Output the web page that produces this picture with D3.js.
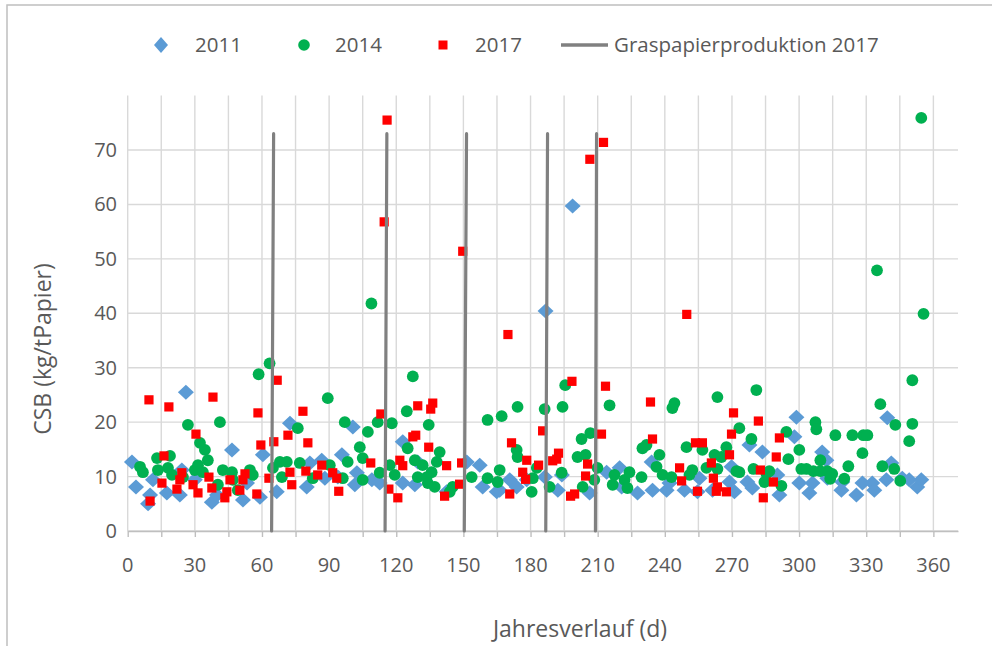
<!DOCTYPE html>
<html>
<head>
<meta charset="utf-8">
<script src="https://cdn.jsdelivr.net/npm/d3@7"></script>
<style>
  body { margin: 0; background: #fff; }
  svg { display: block; }
  text { font-family: "Open Sans", sans-serif; fill: #595959; }
</style>
</head>
<body>
<svg id="chart" width="992" height="646"></svg>
<script>
// CSB load per tonne of paper over the year: [day of year, kg/t]
const series2011 = [
  [1.9,12.7],[3.7,8.1],[9.1,5.0],[10.0,6.6],[11.3,9.4],[17.5,7.0],[23.3,6.6],[24.2,11.2],[26.0,25.5],[30.0,9.4],
  [37.6,5.3],[39.9,6.6],[46.6,14.9],[51.5,5.7],[53.3,8.8],[59.1,6.2],[60.4,14.0],[66.6,7.2],[72.5,19.8],[80.0,8.1],
  [81.4,12.5],[86.7,13.0],[88.1,9.7],[93.9,9.9],[95.7,14.0],[100.6,19.1],[101.5,8.5],[102.4,10.7],[109.1,9.4],[112.6,8.8],
  [122.9,16.4],[122.9,8.8],[128.3,8.5],[129.6,12.7],[142.5,7.2],[151.5,12.7],[157.3,12.1],[158.6,8.1],[164.9,7.2],[166.2,7.5],
  [170.7,9.4],[173.8,8.1],[178.3,9.4],[186.4,9.9],[186.7,40.4],[192.2,7.5],[194.0,10.3],[198.8,59.7],[206.4,7.0],[214.0,10.8],
  [219.8,11.6],[220.7,8.1],[227.8,7.0],[234.1,12.7],[234.5,7.5],[240.8,7.5],[242.1,8.8],[248.8,7.5],[254.6,7.2],[255.5,9.7],
  [261.3,7.5],[268.9,9.0],[269.8,11.8],[271.1,7.2],[276.9,9.0],[277.8,15.8],[279.1,7.9],[283.6,14.5],[290.3,10.3],[291.2,6.6],
  [297.9,17.3],[298.8,20.9],[300.1,8.8],[304.6,7.0],[306.0,8.8],[310.3,14.5],[312.2,13.0],[312.6,9.7],[318.9,7.5],[319.3,9.0],
  [325.6,6.6],[328.3,8.8],[332.7,8.8],[333.6,7.5],[339.0,9.4],[339.4,20.8],[341.2,12.5],[346.1,9.7],[349.2,9.4],[352.8,8.1],
  [354.6,9.4]
];

const series2014 = [
  [5.5,11.8],[6.8,10.8],[13.1,13.4],[13.5,11.2],[18.0,11.6],[18.9,13.8],[19.8,10.3],[24.7,9.9],[26.9,19.5],[30.0,11.2],
  [31.4,12.1],[32.3,16.2],[33.6,10.8],[34.5,14.9],[35.8,13.0],[40.3,8.5],[41.2,20.0],[42.5,11.2],[46.6,10.8],[47.0,9.4],
  [49.2,7.5],[54.6,11.2],[55.9,10.3],[58.5,28.8],[63.4,30.8],[64.9,11.6],[68.0,12.7],[68.9,9.9],[71.1,12.7],[76.0,18.9],
  [76.9,12.5],[82.7,9.7],[89.4,24.4],[90.3,12.1],[96.1,9.7],[97.0,20.0],[98.3,12.7],[103.7,15.4],[105.0,13.4],[105.0,9.4],
  [107.3,18.2],[108.9,41.8],[111.7,20.0],[112.6,10.7],[117.1,12.1],[118.0,19.8],[119.3,10.3],[124.7,22.0],[125.1,15.2],[127.4,28.4],
  [128.3,13.0],[129.6,9.9],[131.8,12.1],[133.6,9.9],[134.1,8.8],[134.5,19.5],[135.8,10.8],[137.2,8.1],[138.1,12.7],[139.4,14.5],
  [143.9,7.2],[145.2,8.1],[153.7,9.9],[160.8,9.7],[160.8,20.4],[165.3,9.0],[166.2,11.2],[167.1,21.1],[173.8,14.9],[174.2,13.6],
  [174.2,22.8],[180.5,7.2],[181.0,9.7],[182.8,11.6],[186.3,22.4],[188.5,8.1],[193.9,10.7],[194.3,22.8],[195.5,26.8],[201.0,13.6],
  [202.8,16.9],[203.3,8.1],[204.6,14.0],[206.7,18.0],[208.5,9.4],[209.9,11.6],[215.3,23.1],[216.7,8.5],[217.5,10.3],[222.0,9.4],
  [223.3,7.9],[224.2,10.8],[229.6,9.9],[230.0,15.2],[231.8,15.8],[236.3,11.8],[237.6,14.0],[239.0,10.3],[243.0,9.9],[243.4,22.6],
  [244.3,23.5],[249.7,15.4],[251.0,10.3],[252.3,11.2],[256.8,14.9],[258.6,11.6],[262.2,14.0],[263.5,24.6],[263.5,11.4],[265.3,13.6],
  [267.5,15.4],[272.0,11.0],[273.3,10.8],[273.3,18.9],[278.7,16.9],[279.6,11.4],[280.9,25.9],[284.5,9.0],[285.4,10.5],[286.7,11.0],
  [292.1,8.3],[294.3,18.2],[295.2,13.2],[300.1,14.9],[301.0,11.4],[303.3,11.4],[306.4,11.0],[307.3,20.0],[307.7,18.7],[309.5,13.0],
  [309.5,11.0],[312.6,11.0],[313.9,9.6],[314.8,10.5],[316.2,17.6],[320.2,9.6],[322.0,11.9],[323.8,17.6],[328.3,14.3],[328.7,17.6],
  [330.5,17.6],[334.8,47.9],[336.3,23.3],[337.2,11.9],[342.5,11.4],[343.0,19.5],[345.2,9.2],[349.2,16.5],[350.6,19.7],[350.6,27.7],
  [354.6,75.9],[355.6,39.9]
];

const series2017 = [
  [9.5,24.1],[10.0,5.5],[15.3,8.8],[16.2,13.8],[18.4,22.8],[22.0,7.7],[23.3,9.4],[24.2,10.7],[29.2,8.5],[30.5,17.8],
  [31.4,7.0],[36.3,9.9],[37.6,7.9],[38.1,24.6],[43.4,6.1],[44.3,7.2],[45.7,9.4],[50.1,7.5],[51.5,9.4],[52.4,10.5],
  [57.7,6.8],[58.2,21.7],[59.5,15.8],[63.1,9.7],[65.3,16.4],[66.8,27.7],[71.6,17.6],[72.5,10.8],[73.3,8.5],[78.3,22.0],
  [79.6,11.0],[80.5,16.2],[84.9,10.3],[86.7,12.1],[91.6,10.7],[93.4,9.7],[94.3,7.3],[108.6,12.5],[113.1,21.5],[114.6,56.8],
  [115.9,75.5],[116.7,7.7],[120.7,6.1],[121.6,13.0],[122.9,12.0],[127.4,17.3],[128.7,17.6],[129.6,23.0],[134.5,15.4],[135.4,22.4],
  [136.3,23.5],[141.6,6.4],[142.5,12.0],[148.3,8.6],[149.2,12.5],[149.7,51.4],[169.9,36.1],[170.7,6.8],[171.5,16.2],[176.5,10.8],
  [177.8,9.5],[178.3,13.0],[183.6,12.1],[185.4,18.4],[189.9,12.9],[191.7,13.2],[192.5,14.3],[197.9,6.4],[198.5,27.5],[199.7,6.8],
  [204.6,10.1],[205.5,12.3],[206.5,68.3],[211.7,17.8],[212.6,71.4],[213.5,26.6],[233.6,23.7],[234.5,16.9],[246.6,11.6],[247.5,9.2],
  [249.8,39.8],[253.7,16.2],[254.6,7.3],[256.8,16.2],[260.8,12.5],[261.7,9.7],[263.0,7.3],[263.5,8.1],[267.5,7.2],[268.9,14.0],
  [269.8,17.8],[270.7,21.7],[281.8,20.2],[282.7,11.2],[284.0,6.1],[288.5,9.0],[289.8,13.6],[291.2,17.1]
];

// Production runs of grass paper in 2017: day at the top and at the foot of each marker line
const productionRuns = [[65.2, 64.3], [115.8, 115.0], [151.4, 150.4], [187.6, 186.8], [209.5, 209.0]];
const productionTop = 73;

const xTickLabels = d3.range(0, 361, 30);
const xMinorTicks = d3.range(0, 361, 15);
const yTickLabels = d3.range(0, 71, 10);
const legendLabels = ["2011", "2014", "2017", "Graspapierproduktion 2017"];

const colors = { s2011: "#5B9BD5", s2014: "#00B050", s2017: "#FF0000", line: "#808080" };

const svg = d3.select("#chart");

// chart frame
svg.append("rect").attr("x", 7).attr("y", 5).attr("width", 1000).attr("height", 700)
  .attr("fill", "#fff").attr("stroke", "#bfbfbf").attr("stroke-width", 1.5);

const x = d3.scaleLinear().domain([0, 371]).range([127.7, 958]);
const y = d3.scaleLinear().domain([0, 80]).range([531, 95.6]);

// gridlines
const grid = svg.append("g").attr("stroke", "#d9d9d9").attr("stroke-width", 1.4);
grid.selectAll("line.v").data(xMinorTicks).join("line").attr("class", "v")
  .attr("x1", d => x(d)).attr("x2", d => x(d)).attr("y1", y(80)).attr("y2", y(0));
grid.selectAll("line.h").data(yTickLabels).join("line").attr("class", "h")
  .attr("x1", x(0)).attr("x2", x(371)).attr("y1", d => y(d)).attr("y2", d => y(d));

// x axis with a tick every 15 days, labels every 30
const xAxis = svg.append("g").attr("transform", `translate(0,${y(0)})`)
  .call(d3.axisBottom(x).tickValues(xMinorTicks).tickSize(6).tickSizeOuter(0).tickFormat(""));
xAxis.select(".domain").attr("stroke", "#bfbfbf").attr("stroke-width", 1.4);
xAxis.selectAll(".tick line").attr("stroke", "#bfbfbf").attr("stroke-width", 1.4);

svg.append("g").selectAll("text").data(xTickLabels).join("text")
  .attr("x", d => x(d)).attr("y", 572).attr("text-anchor", "middle")
  .attr("font-size", 20).text(d => d);

svg.append("g").selectAll("text").data(yTickLabels).join("text")
  .attr("x", 117).attr("y", d => y(d) + 7).attr("text-anchor", "end")
  .attr("font-size", 20).text(d => d);

// axis titles
svg.append("text").attr("transform", "translate(51,349) rotate(-90)")
  .attr("text-anchor", "middle").attr("font-size", 23).text("CSB (kg/tPapier)");
svg.append("text").attr("x", 580).attr("y", 637)
  .attr("text-anchor", "middle").attr("font-size", 23).text("Jahresverlauf (d)");

// markers
const diamond = (cx, cy, rx, ry) => `M${cx},${cy - ry}L${cx + rx},${cy}L${cx},${cy + ry}L${cx - rx},${cy}Z`;

svg.append("g").selectAll("path").data(series2011).join("path")
  .attr("d", d => diamond(x(d[0]), y(d[1]), 8, 7.5)).attr("fill", colors.s2011);

svg.append("g").selectAll("circle").data(series2014).join("circle")
  .attr("cx", d => x(d[0])).attr("cy", d => y(d[1])).attr("r", 5.9).attr("fill", colors.s2014);

svg.append("g").selectAll("rect").data(series2017).join("rect")
  .attr("x", d => x(d[0]) - 4.6).attr("y", d => y(d[1]) - 4.6)
  .attr("width", 9.2).attr("height", 9.2).attr("fill", colors.s2017);

// production run markers
svg.append("g").selectAll("line").data(productionRuns).join("line")
  .attr("x1", d => x(d[0])).attr("y1", y(productionTop))
  .attr("x2", d => x(d[1])).attr("y2", y(0))
  .attr("stroke", colors.line).attr("stroke-width", 3.2).attr("stroke-linecap", "round");

// legend
const legend = svg.append("g");
const ly = 45;
legend.append("path").attr("d", diamond(161, ly, 7, 8)).attr("fill", colors.s2011);
legend.append("circle").attr("cx", 304).attr("cy", ly).attr("r", 5.8).attr("fill", colors.s2014);
legend.append("rect").attr("x", 443 - 4.5).attr("y", ly - 4.5).attr("width", 9).attr("height", 9).attr("fill", colors.s2017);
legend.append("line").attr("x1", 561).attr("x2", 608).attr("y1", ly).attr("y2", ly)
  .attr("stroke", colors.line).attr("stroke-width", 3.5);
const legendX = [195, 335, 475, 614];
legendLabels.forEach((t, i) => {
  legend.append("text").attr("x", legendX[i]).attr("y", ly + 7).attr("font-size", 20.5).text(t);
});
</script>
</body>
</html>
